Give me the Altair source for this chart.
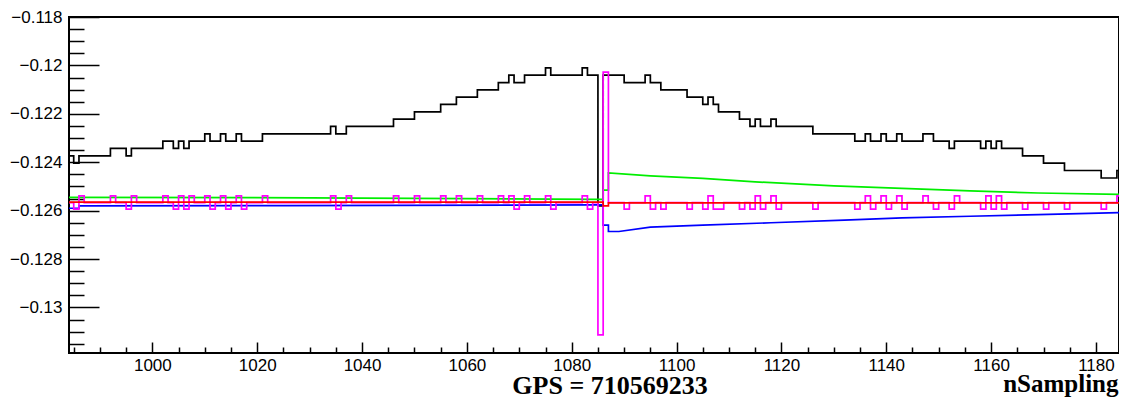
import altair as alt
import pandas as pd

X_DOMAIN = [984.1, 1184.4]
Y_DOMAIN = [-0.13188, -0.118]

x_major = [1000, 1020, 1040, 1060, 1080, 1100, 1120, 1140, 1160, 1180]
x_minor = [985, 990, 995, 1005, 1010, 1015, 1025, 1030, 1035, 1045, 1050, 1055,
           1065, 1070, 1075, 1085, 1090, 1095, 1105, 1110, 1115, 1125, 1130, 1135,
           1145, 1150, 1155, 1165, 1170, 1175]
y_major = [-0.13, -0.128, -0.126, -0.124, -0.122, -0.12, -0.118]
y_minor = [-0.1315, -0.131, -0.1305, -0.1295, -0.129, -0.1285, -0.1275, -0.127,
           -0.1265, -0.1255, -0.125, -0.1245, -0.1235, -0.123, -0.1225, -0.1215,
           -0.121, -0.1205, -0.1195, -0.119, -0.1185]

# step series: (bin start, value)
black_steps = [
    (984, -0.12374), (985, -0.12404), (986, -0.12374), (992, -0.12343), (995, -0.12374),
    (996, -0.12343), (1002, -0.12313), (1004, -0.12343), (1005, -0.12313), (1006, -0.12343),
    (1007, -0.12313), (1010, -0.12283), (1011, -0.12313), (1013, -0.12283), (1014, -0.12313),
    (1016, -0.12283), (1017, -0.12313), (1021, -0.12283), (1034, -0.12252), (1035, -0.12283),
    (1037, -0.12252), (1046, -0.12222), (1050, -0.12192), (1055, -0.12161), (1058, -0.12131),
    (1062, -0.12101), (1066, -0.12071), (1068, -0.12040), (1069, -0.12071), (1071, -0.12040),
    (1075, -0.12010), (1076, -0.12040), (1082, -0.12010), (1083, -0.12040), (1085, -0.12580),
    (1086, -0.12040), (1090, -0.12071), (1094, -0.12040), (1095, -0.12071), (1097, -0.12101),
    (1102, -0.12131), (1105, -0.12161), (1106, -0.12131), (1107, -0.12161), (1108, -0.12192),
    (1112, -0.12222), (1114, -0.12252), (1115, -0.12222), (1116, -0.12252), (1118, -0.12222),
    (1119, -0.12252), (1126, -0.12283), (1134, -0.12313), (1136, -0.12283), (1137, -0.12313),
    (1139, -0.12283), (1140, -0.12313), (1142, -0.12283), (1143, -0.12313), (1147, -0.12283),
    (1149, -0.12313), (1152, -0.12343), (1153, -0.12313), (1158, -0.12343), (1159, -0.12313),
    (1160, -0.12343), (1161, -0.12313), (1162, -0.12343), (1166, -0.12374), (1170, -0.12404),
    (1174, -0.12434), (1181, -0.12465), (1184, -0.12434),
]

magenta_steps = [
    (984, -0.12567), (985, -0.12594), (986, -0.12539), (987, -0.12567), (992, -0.12539),
    (993, -0.12567), (995, -0.12594), (996, -0.12539), (997, -0.12567), (1002, -0.12539),
    (1003, -0.12567), (1004, -0.12594), (1005, -0.12539), (1006, -0.12594), (1007, -0.12539),
    (1008, -0.12567), (1010, -0.12539), (1011, -0.12594), (1012, -0.12567), (1013, -0.12539),
    (1014, -0.12594), (1015, -0.12567), (1016, -0.12539), (1017, -0.12594), (1018, -0.12567),
    (1021, -0.12539), (1022, -0.12567), (1034, -0.12539), (1035, -0.12594), (1036, -0.12567),
    (1037, -0.12539), (1038, -0.12567), (1046, -0.12539), (1047, -0.12567), (1050, -0.12539),
    (1051, -0.12567), (1055, -0.12539), (1056, -0.12567), (1058, -0.12539), (1059, -0.12567),
    (1062, -0.12539), (1063, -0.12567), (1066, -0.12539), (1067, -0.12567), (1068, -0.12539),
    (1069, -0.12594), (1070, -0.12567), (1071, -0.12539), (1072, -0.12567), (1075, -0.12539),
    (1076, -0.12594), (1077, -0.12567), (1082, -0.12539), (1083, -0.12594), (1084, -0.12567),
    (1085, -0.13113), (1086, -0.12028), (1087, -0.12567), (1090, -0.12594), (1091, -0.12567),
    (1094, -0.12539), (1095, -0.12594), (1096, -0.12567), (1097, -0.12594), (1098, -0.12567),
    (1102, -0.12594), (1103, -0.12567), (1105, -0.12594), (1106, -0.12539), (1107, -0.12594),
    (1109, -0.12567), (1112, -0.12594), (1113, -0.12567), (1114, -0.12594), (1115, -0.12539),
    (1116, -0.12594), (1117, -0.12567), (1118, -0.12539), (1119, -0.12594), (1120, -0.12567),
    (1126, -0.12594), (1127, -0.12567), (1134, -0.12594), (1135, -0.12567), (1136, -0.12539),
    (1137, -0.12594), (1138, -0.12567), (1139, -0.12539), (1140, -0.12594), (1141, -0.12567),
    (1142, -0.12539), (1143, -0.12594), (1144, -0.12567), (1147, -0.12539), (1148, -0.12567),
    (1149, -0.12594), (1150, -0.12567), (1152, -0.12594), (1153, -0.12539), (1154, -0.12567),
    (1158, -0.12594), (1159, -0.12539), (1160, -0.12594), (1161, -0.12539), (1162, -0.12594),
    (1163, -0.12567), (1166, -0.12594), (1167, -0.12567), (1170, -0.12594), (1171, -0.12567),
    (1174, -0.12594), (1175, -0.12567), (1181, -0.12594), (1182, -0.12567), (1184, -0.12539),
]

red_steps = [(984, -0.12565), (1086, -0.12580), (1087, -0.12568)]

# smooth series: (x, value) in drawing order
green_pts = [
    (984, -0.12545), (1030, -0.12547), (1060, -0.12550), (1085, -0.12553), (1086, -0.12553),
    (1086, -0.12515), (1087, -0.12515), (1087, -0.12444), (1095, -0.12456), (1105, -0.12467),
    (1115, -0.12481), (1130, -0.12498), (1143, -0.12508), (1156, -0.12518), (1169, -0.12527),
    (1185, -0.12533),
]
blue_pts = [
    (984, -0.12590), (986, -0.12590), (986, -0.12580), (1025, -0.12579), (1085, -0.12576),
    (1086, -0.12576), (1086, -0.12660), (1087, -0.12660), (1087, -0.12686), (1089, -0.12686),
    (1095, -0.12668), (1105, -0.12660), (1118, -0.12650), (1132, -0.12639), (1143, -0.12630),
    (1156, -0.12623), (1169, -0.12616), (1185, -0.12608),
]


def step_df(steps):
    rows = [{"x": x, "y": y, "i": k} for k, (x, y) in enumerate(steps)]
    rows.append({"x": 1185, "y": steps[-1][1], "i": len(steps)})
    return pd.DataFrame(rows)


def pts_df(pts):
    return pd.DataFrame([{"x": x, "y": y, "i": k} for k, (x, y) in enumerate(pts)])


xs = alt.Scale(domain=X_DOMAIN, nice=False, zero=False)
ys = alt.Scale(domain=Y_DOMAIN, nice=False, zero=False)

LABEL_FONT = "Liberation Sans"
TITLE_FONT = "Liberation Serif"


def series(df, color, interp, xaxis=None, yaxis=None):
    return alt.Chart(df).mark_line(
        color=color, strokeWidth=1.7, interpolate=interp, clip=True
    ).encode(
        x=alt.X("x:Q", scale=xs, axis=xaxis),
        y=alt.Y("y:Q", scale=ys, axis=yaxis),
        order=alt.Order("i:Q"),
    )


main_x_axis = alt.Axis(
    orient="bottom", values=x_major, format="d", ticks=False, domain=False, grid=False,
    labelFont=LABEL_FONT, labelFontSize=17, labelColor="black", labelPadding=4,
    title="nSampling", titleFont=TITLE_FONT, titleFontSize=25, titleFontWeight="bold",
    titleColor="black", titleAnchor="end", titleAlign="right", titleBaseline="alphabetic",
    titleX=1049, titleY=38,
)
main_y_axis = alt.Axis(
    orient="left", values=y_major, format=".3~f", ticks=False, domain=False, grid=False,
    labelFont=LABEL_FONT, labelFontSize=17, labelColor="black", labelPadding=7, title=None,
)

black = series(step_df(black_steps), "#000000", "step-after", main_x_axis, main_y_axis)
green = series(pts_df(green_pts), "#00ee00", "linear")
blue = series(pts_df(blue_pts), "#0000ff", "linear")
magenta = series(step_df(magenta_steps), "#ff00ff", "step-after")
red = series(step_df(red_steps), "#ff0000", "step-after")

dummy = pd.DataFrame({"x": [1000], "y": [-0.125]})


def tick_layer(xaxis=None, yaxis=None):
    return alt.Chart(dummy).mark_point(opacity=0).encode(
        x=alt.X("x:Q", scale=xs, axis=xaxis),
        y=alt.Y("y:Q", scale=ys, axis=yaxis),
    )


def tick_axis(orient, values, size):
    return alt.Axis(
        orient=orient, values=values, offset=-size, tickSize=size, labels=False,
        domain=False, grid=False, title=None, tickColor="black", tickWidth=1.5,
    )


tx_major = tick_layer(xaxis=tick_axis("bottom", x_major, 11))
tx_minor = tick_layer(xaxis=tick_axis("bottom", x_minor, 6))
ty_major = tick_layer(yaxis=tick_axis("left", y_major, 30))
ty_minor = tick_layer(yaxis=tick_axis("left", y_minor, 15))

gps = alt.Chart(pd.DataFrame({"t": ["GPS = 710569233"]})).mark_text(
    font=TITLE_FONT, fontSize=26, fontWeight="bold", color="black",
    align="center", baseline="alphabetic",
).encode(text="t:N", x=alt.value(541), y=alt.value(377))

chart = alt.layer(
    black, green, blue, magenta, red, tx_major, tx_minor, ty_major, ty_minor, gps
).resolve_axis(x="independent", y="independent").properties(
    width=1050, height=336,
    padding={"left": 61, "top": 9, "right": 0, "bottom": 44},
    autosize=alt.AutoSizeParams(type="none"),
    background="white",
).configure_view(stroke="black", strokeWidth=2)

chart.save("out.html", embed_options={"renderer": "svg", "actions": False})
